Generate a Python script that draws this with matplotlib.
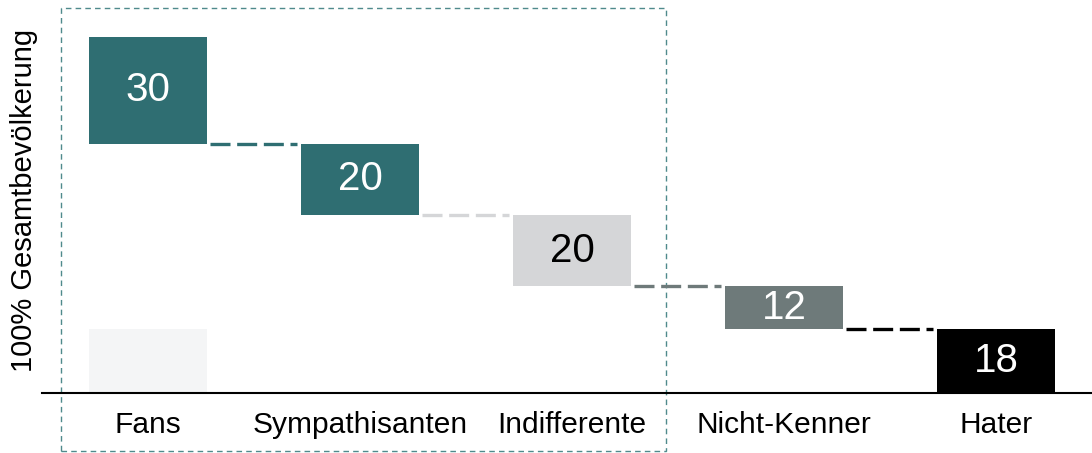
import matplotlib.pyplot as plt
from matplotlib.patches import Rectangle

categories = ['Fans', 'Sympathisanten', 'Indifferente', 'Nicht-Kenner', 'Hater']
values = [30, 20, 20, 12, 18]
colors = ['#2f6e72', '#2f6e72', '#d5d6d8', '#6e7a7a', '#000000']
text_colors = ['white', 'white', 'black', 'white', 'white']
ghost_value = 18   # blasser Balken unter "Fans"

plt.rcParams['font.family'] = ['Liberation Sans', 'DejaVu Sans']

fig = plt.figure(figsize=(10.92, 4.53), dpi=100)
ax = fig.add_axes([42 / 1092, 60 / 453, 1050 / 1092, 356 / 453])

width = 0.557
x = list(range(len(categories)))

# Wasserfall: von 100 nach unten
tops = []
top = 100
for v in values:
    tops.append(top)
    top -= v
bottoms = [t - v for t, v in zip(tops, values)]

ax.bar(0, ghost_value, width=width, color='#f4f5f6', zorder=1)
ax.bar(x, values, bottom=bottoms, width=width, color=colors, zorder=2)

for i, v in enumerate(values):
    ax.text(i, bottoms[i] + v / 2, str(v), ha='center', va='center',
            fontsize=29, color=text_colors[i], zorder=3)

# Verbindungslinien in der Farbe des naechsten Balkens
for i in range(len(values) - 1):
    ax.plot([i + width / 2 + 0.015, i + 1 - width / 2 - 0.02],
            [bottoms[i], bottoms[i]], color=colors[i + 1], lw=2.4,
            dashes=(6, 2), zorder=2)

ax.set_xlim(-0.5, 4.453)
ax.set_ylim(0, 100)
ax.set_xticks(x)
ax.set_xticklabels(categories, fontsize=21.5)
ax.tick_params(axis='x', length=0, pad=13)
ax.set_yticks([])
for s in ['top', 'right', 'left']:
    ax.spines[s].set_visible(False)
ax.spines['bottom'].set_linewidth(1.5)
ax.set_ylabel('100% Gesamtbevölkerung', fontsize=21)
ax.yaxis.set_label_coords(-4 / 1050, 0.542)

# gestrichelter Rahmen um die ersten drei Gruppen
box = Rectangle((-0.41, -16.3), 2.853, 124.4, fill=False, edgecolor='#4f8a8c',
                lw=1.0, linestyle=(0, (4, 3)), clip_on=False, zorder=0)
ax.add_patch(box)

fig.savefig('out.png', dpi=100)
